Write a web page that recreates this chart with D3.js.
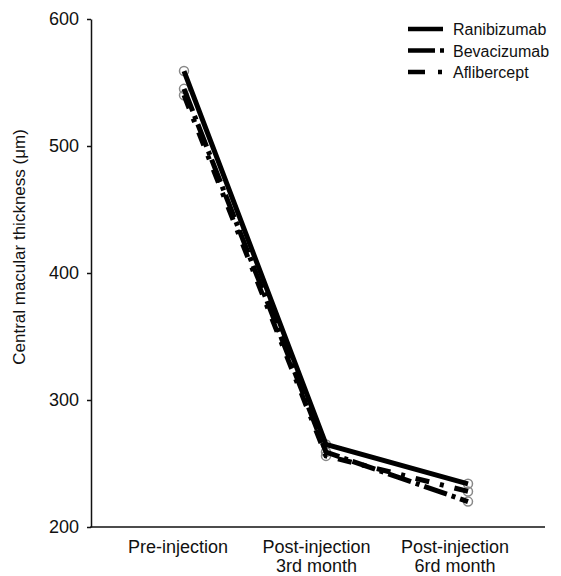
<!DOCTYPE html>
<html><head><meta charset="utf-8">
<script src="https://cdn.jsdelivr.net/npm/d3@7"></script>
<style>body{margin:0;background:#fff}svg{display:block}text{font-family:"Liberation Sans",Arial,sans-serif;fill:#111}</style>
</head><body><svg id="c" width="561" height="576"></svg>
<script>
const categories = [["Pre-injection"], ["Post-injection", "3rd month"], ["Post-injection", "6rd month"]];
const seriesNames = ["Ranibizumab", "Bevacizumab", "Aflibercept"];
const ranibizumab = [559, 265, 234];
const bevacizumab = [545, 259, 220];
const aflibercept = [540, 256, 228];
const yTicks = [200, 300, 400, 500, 600];
const yLabel = "Central macular thickness (\u03bcm)";

const series = [
  {name: seriesNames[0], values: ranibizumab, dash: null},
  {name: seriesNames[1], values: bevacizumab, dash: "24,5,4,5"},
  {name: seriesNames[2], values: aflibercept, dash: "14,11,4,11"}
];

const svg = d3.select("#c");
const keys = categories.map((c, i) => i);
const x = d3.scalePoint().domain(keys).range([184, 468]);
const xl = d3.scalePoint().domain(keys).range([178, 455]);
const y = d3.scaleLinear().domain([200, 600]).range([527, 19]);

// y axis
const ya = svg.append("g").attr("transform", "translate(91,0)")
  .call(d3.axisLeft(y).tickValues(yTicks).tickSize(4).tickSizeOuter(0));
ya.select(".domain").attr("stroke", "#111").attr("stroke-width", 1.5);
ya.selectAll(".tick line").attr("stroke", "#111").attr("stroke-width", 1.5);
ya.selectAll(".tick text").attr("font-size", 18).attr("dx", -5).attr("fill", "#111")
  .style("font-family", '"Liberation Sans",Arial,sans-serif');

// x axis baseline
svg.append("line").attr("x1", 90.25).attr("x2", 545).attr("y1", y(200)).attr("y2", y(200))
  .attr("stroke", "#111").attr("stroke-width", 1.5);

const xg = svg.append("g");
keys.forEach(k => {
  const t = xg.append("text").attr("x", xl(k)).attr("y", 553).attr("text-anchor", "middle").attr("font-size", 18);
  categories[k].forEach((s, j) => t.append("tspan").attr("x", xl(k)).attr("dy", j === 0 ? 0 : 19).text(s));
});

svg.append("text").attr("transform", "translate(25,247) rotate(-90)")
  .attr("text-anchor", "middle").attr("font-size", 17).text(yLabel);

const line = d3.line().x((d, i) => x(i)).y(d => y(d));

svg.append("g").selectAll("circle").data(series.flatMap(s => s.values.map((v, i) => ({i, v}))))
  .join("circle").attr("cx", d => x(d.i)).attr("cy", d => y(d.v)).attr("r", 4.5)
  .attr("fill", "none").attr("stroke", "#888").attr("stroke-width", 1.5);

svg.append("g").selectAll("path").data(series.slice().reverse()).join("path")
  .attr("d", d => line(d.values)).attr("fill", "none").attr("stroke", "#000")
  .attr("stroke-width", 5).attr("stroke-dasharray", d => d.dash);

// legend
const lg = svg.append("g");
series.forEach((s, i) => {
  const yy = 29 + i * 21.5;
  lg.append("line").attr("x1", 408).attr("x2", s.dash ? 444 : 443).attr("y1", yy).attr("y2", yy)
    .attr("stroke", "#000").attr("stroke-width", 4.5)
    .attr("stroke-dasharray", i === 0 ? null : (i === 1 ? "27,5,4,5" : "17,13,4,13"));
  lg.append("text").attr("x", 453).attr("y", yy + 6).attr("font-size", 16).text(s.name);
});
</script></body></html>
